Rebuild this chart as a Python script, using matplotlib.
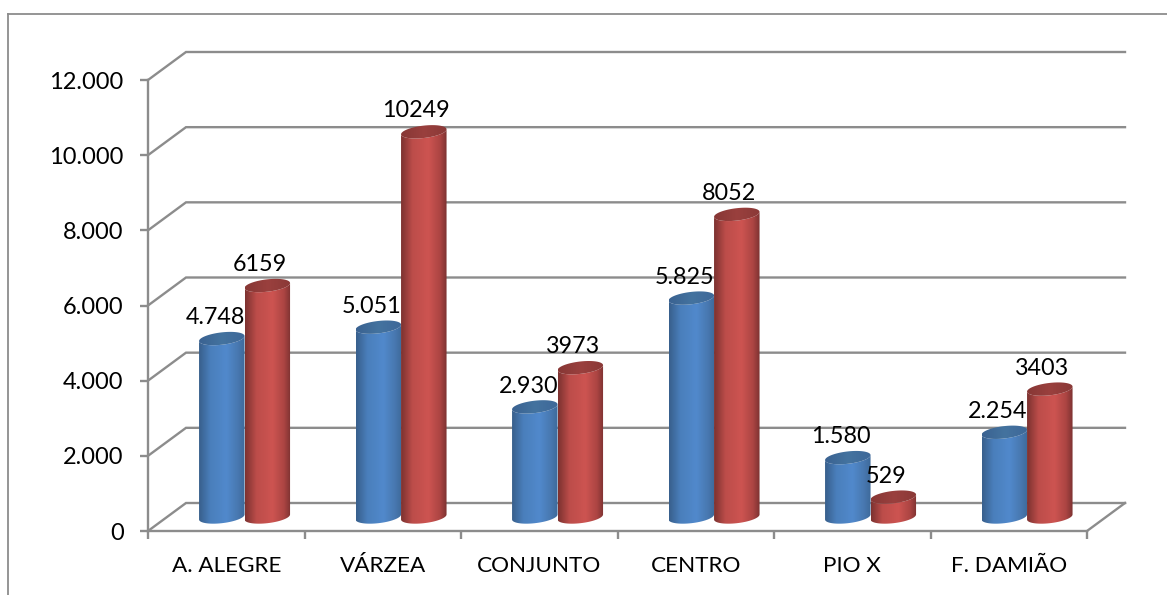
import numpy as np
import matplotlib
matplotlib.use('Agg')
import matplotlib.pyplot as plt
from matplotlib.colors import LinearSegmentedColormap
from matplotlib.lines import Line2D
from matplotlib.path import Path

categories = ['A. ALEGRE', 'VÁRZEA', 'CONJUNTO', 'CENTRO', 'PIO X', 'F. DAMIÃO']
series_blue = [4748, 5051, 2930, 5825, 1580, 2254]
series_red = [6159, 10249, 3973, 8052, 529, 3403]
blue_labels = ['4.748', '5.051', '2.930', '5.825', '1.580', '2.254']
red_labels = ['6159', '10249', '3973', '8052', '529', '3403']
y_ticks = [0, 2000, 4000, 6000, 8000, 10000, 12000]
y_labels = ['0', '2.000', '4.000', '6.000', '8.000', '10.000', '12.000']

W, H = 1167, 595
GRAY = '#8C8C8C'
plt.rcParams['font.family'] = ['Lato', 'DejaVu Sans']

fig = plt.figure(figsize=(W / 100, H / 100), dpi=100, facecolor='white')
L, R, T, B = 148, 1087, 80, 531
ax = fig.add_axes([L / W, 1 - B / H, (R - L) / W, (B - T) / H])
ax.set_facecolor('none')

px_x = 6 / (R - L)
px_y = 12000 / (B - T)
DX, DY = 38 * px_x, 28 * px_y

# chart frame
for xs, ys in (([8, W], [14, 14]), ([8, 8], [14, H])):
    fig.add_artist(Line2D([x / W for x in xs], [1 - y / H for y in ys],
                          color=GRAY, lw=1.3))

# walls and floor
lw = 1.7
for v in y_ticks:
    ax.plot([0, DX, 6 + DX], [v, v + DY, v + DY], color=GRAY, lw=lw,
            clip_on=False, zorder=1, solid_joinstyle='miter')
ax.plot([6, 6 + DX], [0, DY], color=GRAY, lw=lw, clip_on=False, zorder=1)


def cyl_paths(cx, value, w):
    a = w / 2
    b = 6.2 * px_y
    tilt = 2.5 * px_y
    base = DY / 2
    t = np.linspace(0, 2 * np.pi, 73)
    top = base + value
    cap = Path(np.column_stack([cx + a * np.cos(t),
                                top + b * np.sin(t) + tilt * np.cos(t)]))
    tb = np.linspace(0, np.pi, 37)
    lower = np.column_stack([cx + a * np.cos(tb[::-1]),
                             base - b * np.sin(tb[::-1]) + tilt * np.cos(tb[::-1])])
    upper = np.column_stack([cx + a * np.cos(tb),
                             top - b * np.sin(tb) + tilt * np.cos(tb)])
    body = Path(np.vstack([upper, lower, upper[:1]]))
    return body, cap


def fill(path, cmap, cx, w, zorder):
    grad = np.linspace(0, 1, 128).reshape(1, -1)
    im = ax.imshow(grad, cmap=cmap, aspect='auto', interpolation='bilinear',
                   extent=[cx - w / 2, cx + w / 2, 0, 12000], zorder=zorder)
    im.set_clip_path(path, ax.transData)


blue_body = LinearSegmentedColormap.from_list('bb', [(0, '#385F8C'), (.25, '#4A7FBC'),
                                                     (.6, '#5189CC'), (.85, '#4878B0'), (1, '#3E6A9A')])
blue_cap = LinearSegmentedColormap.from_list('bc', ['#3A6291', '#44739F', '#3E6899'])
red_body = LinearSegmentedColormap.from_list('rb', [(0, '#7C3230'), (.25, '#BD4D4A'),
                                                    (.6, '#CD5451'), (.85, '#AC4543'), (1, '#7C3231')])
red_cap = LinearSegmentedColormap.from_list('rc', ['#873735', '#9A403E', '#8A3937'])

w = 45.5 * px_x
shift = -0.7 * px_x
for i in range(len(categories)):
    c = i + 0.5 + DX / 2 + shift
    for k, (vals, body_c, cap_c) in enumerate(((series_blue, blue_body, blue_cap),
                                               (series_red, red_body, red_cap))):
        cx = c + (k - 0.5) * w
        body, cap = cyl_paths(cx, vals[i], w)
        z = 3 + k + i * 0.1
        fill(body, body_c, cx, w, z)
        fill(cap, cap_c, cx, w, z + 0.01)

for i in range(len(categories)):
    c = i + 0.5 + DX / 2 + shift
    ax.annotate(blue_labels[i], (c - w / 2, series_blue[i] + DY / 2), xytext=(-4.7, 15),
                textcoords='offset points', ha='center', va='center', fontsize=16.8,
                color='black', zorder=10)
    ax.annotate(red_labels[i], (c + w / 2, series_red[i] + DY / 2), xytext=(-5.5, 15),
                textcoords='offset points', ha='center', va='center', fontsize=16.8,
                color='black', zorder=10)

ax.set_xlim(0, 6)
ax.set_ylim(0, 12000)
for s in ('top', 'right'):
    ax.spines[s].set_visible(False)
for s in ('left', 'bottom'):
    ax.spines[s].set_color(GRAY)
    ax.spines[s].set_linewidth(lw)

ax.set_yticks(y_ticks, y_labels)
ax.set_xticks(range(7), [''] * 7)
ax.set_xticks(np.arange(6) + 0.5, categories, minor=True)
ax.tick_params(axis='y', length=5.5, width=lw, color=GRAY, pad=12, labelsize=17)
ax.tick_params(axis='x', which='major', length=6, width=lw, color=GRAY)
ax.tick_params(axis='x', which='minor', length=0, pad=18, labelsize=16.2)

fig.savefig('out.png', dpi=100, facecolor='white')
